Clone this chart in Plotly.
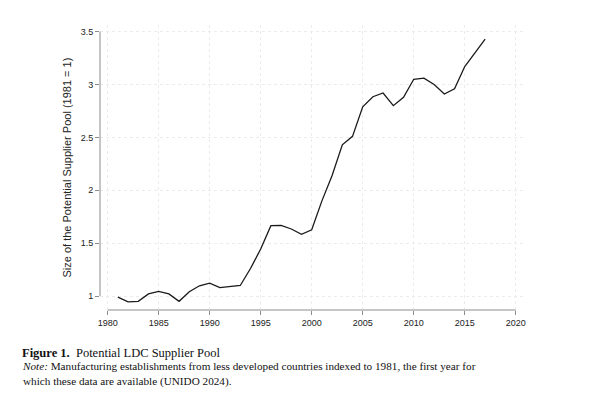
import plotly.graph_objects as go

years = list(range(1981, 2018))
pool_index = [0.99, 0.944, 0.95, 1.02, 1.044, 1.02, 0.95, 1.04, 1.097, 1.122,
              1.08, 1.09, 1.10, 1.26, 1.445, 1.665, 1.668, 1.634, 1.583, 1.627,
              1.90, 2.14, 2.43, 2.51, 2.79, 2.885, 2.92, 2.80, 2.88, 3.05,
              3.06, 3.00, 2.91, 2.96, 3.17, 3.30, 3.43]

x_ticks = [1980, 1985, 1990, 1995, 2000, 2005, 2010, 2015, 2020]
y_ticks = [1, 1.5, 2, 2.5, 3, 3.5]
y_tick_labels = ["1", "1.5", "2", "2.5", "3", "3.5"]

y_title = "Size of the Potential Supplier Pool (1981 = 1)"
caption_title = "<b>Figure 1.</b>  Potential LDC Supplier Pool"
caption_note = ("<i>Note:</i> Manufacturing establishments from less developed countries indexed to 1981, the first year for"
                "<br>which these data are available (UNIDO 2024).")

# page body has an 8px default margin; compensate so the picture lines up
OFF = 8
W, H = 601 - OFF, 414 - OFF
L, R, T, B = 100 - OFF, 78, 25 - OFF, 104
pw, ph = W - L - R, H - T - B

def px_x(px):
    return (px - OFF - L) / pw

def px_y(py):
    return (H - B - (py - OFF)) / ph

fig = go.Figure()
fig.add_trace(go.Scatter(x=years, y=pool_index, mode="lines",
                         line=dict(color="#1a1a1a", width=1.3),
                         showlegend=False, hoverinfo="skip"))

axis_col = "#8c8c8c"
fig.add_shape(type="line", xref="paper", yref="y", x0=0, x1=0,
              y0=y_ticks[0], y1=y_ticks[-1], line=dict(color=axis_col, width=1))
fig.add_shape(type="line", xref="x", yref="paper", x0=x_ticks[0], x1=x_ticks[-1],
              y0=0, y1=0, line=dict(color=axis_col, width=1))

fig.add_annotation(text=y_title, xref="paper", yref="paper",
                   x=px_x(66), y=0.5, textangle=-90, showarrow=False,
                   xanchor="center", yanchor="middle",
                   font=dict(family="Liberation Sans, Arial", size=11, color="#222"))
fig.add_annotation(text=caption_title, xref="paper", yref="paper",
                   x=px_x(20), y=px_y(353), showarrow=False,
                   xanchor="left", yanchor="middle", align="left",
                   font=dict(family="Liberation Serif, DejaVu Serif", size=12.5, color="#111"))
fig.add_annotation(text=caption_note, xref="paper", yref="paper",
                   x=px_x(20), y=px_y(374), showarrow=False,
                   xanchor="left", yanchor="middle", align="left",
                   font=dict(family="Liberation Serif, DejaVu Serif", size=11.2, color="#111"))

fig.update_layout(
    width=W, height=H,
    margin=dict(l=L, r=R, t=T, b=B, pad=0),
    paper_bgcolor="white", plot_bgcolor="white",
    xaxis=dict(range=[1979.25, 2020.71], tickvals=x_ticks,
               ticks="outside", ticklen=4, tickcolor=axis_col,
               showline=False, zeroline=False,
               showgrid=True, gridcolor="#ececec", griddash="dot", gridwidth=1,
               tickfont=dict(family="Liberation Sans, Arial", size=9, color="#222")),
    yaxis=dict(range=[0.868, 3.563], tickvals=y_ticks, ticktext=y_tick_labels,
               ticks="outside", ticklen=4, tickcolor=axis_col,
               showline=False, zeroline=False,
               showgrid=True, gridcolor="#ececec", griddash="dot", gridwidth=1,
               tickfont=dict(family="Liberation Sans, Arial", size=9, color="#222")),
)

fig.write_html("out.html")
